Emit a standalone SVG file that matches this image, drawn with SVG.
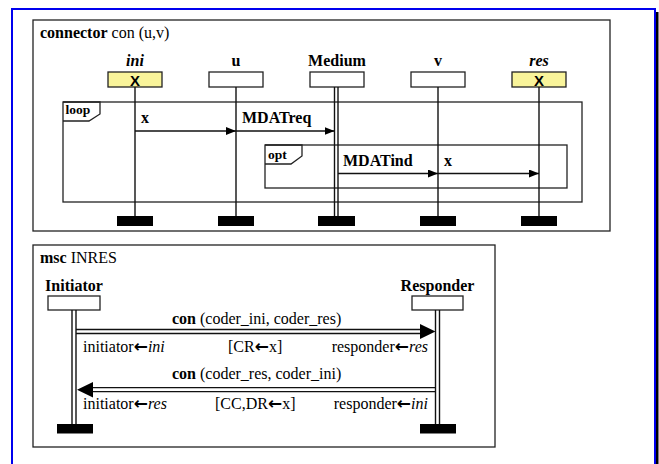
<svg xmlns="http://www.w3.org/2000/svg" width="659" height="464" viewBox="0 0 659 464">
<defs>
<style>
text{font-family:"Liberation Serif","Times New Roman",serif;font-size:16px;fill:#000}
.b{font-weight:bold}
.i{font-style:italic}
.ar{font-family:"DejaVu Sans",sans-serif;font-size:17px;font-weight:bold}
.tag{font-size:13.5px;font-weight:bold}
.frame{fill:none;stroke:#222;stroke-width:1.3}
.box{fill:#fff;stroke:#222;stroke-width:1.3}
.ybox{fill:#f9f49a;stroke:#222;stroke-width:1.3}
.ll{stroke:#111;stroke-width:1.4;fill:none}
.msg{stroke:#111;stroke-width:1.3;fill:none}
.end{fill:#000}
.xm{font-family:"Liberation Sans",Arial,sans-serif;font-weight:bold;font-size:15px}
</style>
<marker id="ah" markerWidth="10" markerHeight="8" refX="10" refY="4" orient="auto" markerUnits="userSpaceOnUse">
<path d="M0,0 L10,4 L0,8 Z" fill="#000"/>
</marker>
</defs>
<rect x="0" y="0" width="659" height="464" fill="#fff"/>
<rect x="655" y="12" width="3.5" height="452" fill="#000"/>
<rect x="12" y="9" width="643" height="470" fill="none" stroke="#0000ee" stroke-width="2"/>

<g id="panel-connector">
<rect class="frame" x="33" y="20" width="577" height="211"/>
<text x="40" y="38"><tspan class="b">connector</tspan> con (u,v)</text>
</g>

<g id="loop-frame">
<rect class="frame" x="63" y="102" width="519" height="100"/>
<path class="frame" d="M63,102 H100 V114 L89,121 H63"/>
<text class="tag" x="65.5" y="114">loop</text>
</g>
<g id="opt-frame">
<rect class="frame" x="265" y="145" width="302" height="43"/>
<path class="frame" d="M265,145 H302 V156 L291,164 H265"/>
<text class="tag" x="268" y="159">opt</text>
</g>

<g id="ini">
<text class="b i" x="135" y="66" text-anchor="middle">ini</text>
<rect class="ybox" x="108" y="72" width="54" height="15"/>
<text class="xm" x="135" y="86" text-anchor="middle">X</text>
<line class="ll" x1="135" y1="87" x2="135" y2="216"/>
<rect class="end" x="117" y="216" width="36" height="10"/>
</g>
<g id="u">
<text class="b" x="236" y="66" text-anchor="middle">u</text>
<rect class="box" x="209" y="72" width="54" height="15"/>
<line class="ll" x1="236" y1="87" x2="236" y2="216"/>
<rect class="end" x="218" y="216" width="36" height="10"/>
</g>
<g id="Medium">
<text class="b" x="337" y="66" text-anchor="middle">Medium</text>
<rect class="box" x="310" y="72" width="54" height="15"/>
<line class="ll" x1="334.5" y1="87" x2="334.5" y2="216"/>
<line class="ll" x1="338" y1="87" x2="338" y2="216"/>
<rect class="end" x="318" y="216" width="37" height="10"/>
</g>
<g id="v">
<text class="b" x="438" y="66" text-anchor="middle">v</text>
<rect class="box" x="411" y="72" width="54" height="15"/>
<line class="ll" x1="438" y1="87" x2="438" y2="216"/>
<rect class="end" x="420" y="216" width="36" height="10"/>
</g>
<g id="res">
<text class="b i" x="539" y="66" text-anchor="middle">res</text>
<rect class="ybox" x="512" y="72" width="54" height="15"/>
<text class="xm" x="539" y="86" text-anchor="middle">X</text>
<line class="ll" x1="539" y1="87" x2="539" y2="216"/>
<rect class="end" x="521" y="216" width="36" height="10"/>
</g>

<g id="connectors-top">
<line class="msg" x1="135" y1="131" x2="236" y2="131" marker-end="url(#ah)"/>
<text class="b" x="141" y="123">x</text>
<line class="msg" x1="236" y1="131" x2="334.5" y2="131" marker-end="url(#ah)"/>
<text class="b" x="242" y="123">MDATreq</text>
<line class="msg" x1="338" y1="173.5" x2="438" y2="173.5" marker-end="url(#ah)"/>
<text class="b" x="343" y="166">MDATind</text>
<line class="msg" x1="438" y1="173.5" x2="539" y2="173.5" marker-end="url(#ah)"/>
<text class="b" x="444" y="166">x</text>
</g>

<g id="panel-msc">
<rect class="frame" x="33" y="245" width="462" height="202"/>
<text x="40" y="263"><tspan class="b">msc</tspan> INRES</text>
</g>

<g id="Initiator">
<text class="b" x="74" y="291" text-anchor="middle">Initiator</text>
<rect class="box" x="48" y="296" width="52" height="14"/>
<line class="ll" x1="72" y1="310" x2="72" y2="424"/>
<line class="ll" x1="76" y1="310" x2="76" y2="424"/>
<rect class="end" x="57" y="424" width="36" height="9.5"/>
</g>
<g id="Responder">
<text class="b" x="437.5" y="291" text-anchor="middle">Responder</text>
<rect class="box" x="412" y="296" width="51" height="14"/>
<line class="ll" x1="435.5" y1="310" x2="435.5" y2="424"/>
<line class="ll" x1="439.5" y1="310" x2="439.5" y2="424"/>
<rect class="end" x="420" y="424" width="36" height="9.5"/>
</g>

<g id="connectors-msc">
<line class="msg" x1="76" y1="329.5" x2="422" y2="329.5"/>
<line class="msg" x1="76" y1="333.5" x2="422" y2="333.5"/>
<path d="M420,324 L435.5,331.5 L420,339 Z" fill="#000"/>
<text x="172" y="324"><tspan class="b">con</tspan> (coder_ini, coder_res)</text>
<text x="83" y="352">initiator<tspan class="ar">←</tspan><tspan class="i">ini</tspan></text>
<text x="228" y="352">[CR<tspan class="ar">←</tspan>x]</text>
<text x="428" y="352" text-anchor="end">responder<tspan class="ar">←</tspan><tspan class="i">res</tspan></text>

<line class="msg" x1="91" y1="387.7" x2="435.5" y2="387.7"/>
<line class="msg" x1="91" y1="391.7" x2="435.5" y2="391.7"/>
<path d="M93,382 L77,389.7 L93,397.4 Z" fill="#000"/>
<text x="172" y="379"><tspan class="b">con</tspan> (coder_res, coder_ini)</text>
<text x="83" y="409">initiator<tspan class="ar">←</tspan><tspan class="i">res</tspan></text>
<text x="215" y="409">[CC,DR<tspan class="ar">←</tspan>x]</text>
<text x="428" y="409" text-anchor="end">responder<tspan class="ar">←</tspan><tspan class="i">ini</tspan></text>
</g>
</svg>
